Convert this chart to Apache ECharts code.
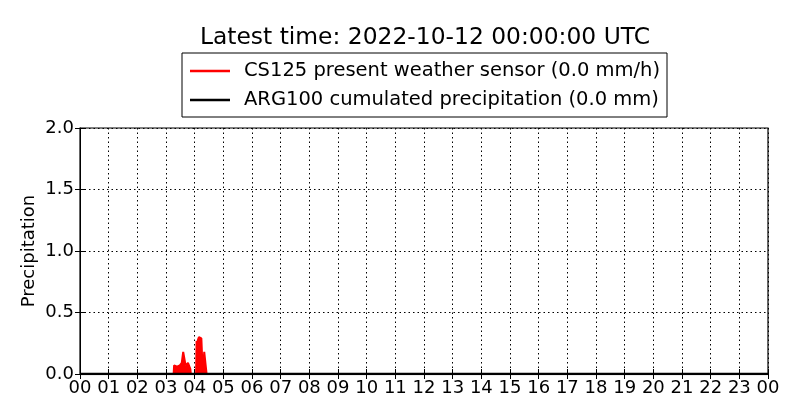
<!DOCTYPE html>
<html>
<head>
<meta charset="utf-8">
<script src="https://cdn.jsdelivr.net/npm/echarts@6/dist/echarts.min.js"></script>
<style>html,body{margin:0;padding:0;background:#fff}#c{width:800px;height:420px}</style>
</head>
<body>
<div id="c"></div>
<script>
const titleText = 'Latest time: 2022-10-12 00:00:00 UTC';
const seriesNames = ['CS125 present weather sensor (0.0 mm/h)', 'ARG100 cumulated precipitation (0.0 mm)'];
// CS125 precipitation intensity (mm/h), time in minutes since 00:00
const cs125Minutes = [0, 196, 197, 200, 203, 206, 209, 211, 213, 215, 216, 220, 221, 223, 225, 226, 230, 231, 232, 243, 244, 246, 246.5, 247, 248, 249, 252, 254, 256, 257, 259, 260, 264, 265, 1440];
const cs125Values  = [0, 0, 0.07, 0.07, 0.06, 0.06, 0.07, 0.08, 0.09, 0.08, 0.18, 0.19, 0.07, 0.06, 0.06, 0.09, 0.10, 0.04, 0, 0, 0.27, 0.28, 0.08, 0.28, 0.29, 0.30, 0.30, 0.29, 0.28, 0, 0, 0.18, 0.18, 0, 0];
// ARG100 cumulated precipitation (mm)
const argMinutes = [0, 1440];
const argValues = [0, 0];
const hourTicks = ['00','01','02','03','04','05','06','07','08','09','10','11','12','13','14','15','16','17','18','19','20','21','22','23','00'];
const yTicks = ['0.0','0.5','1.0','1.5','2.0'];

const font = 'DejaVu Sans';
const chart = echarts.init(document.getElementById('c'), null, {renderer: 'canvas'});
const toPairs = (m, v) => m.map((t, i) => [t / 60, v[i]]);
const tickStyle = {show: true, inside: true, length: 5, lineStyle: {color: '#000', width: 1}};
chart.setOption({
  animation: false,
  title: {text: titleText, left: 420, top: 21, textAlign: 'center',
    textStyle: {fontFamily: font, fontSize: 23.4, fontWeight: 'normal', color: '#000'}},
  legend: {orient: 'vertical', left: 182, top: 53, padding: [7, 7, 6, 8], itemGap: 7,
    itemWidth: 40, itemHeight: 2.5, icon: 'rect', borderColor: '#000', borderWidth: 1,
    textStyle: {fontFamily: font, fontSize: 19.5, color: '#000', lineHeight: 22, padding: [0, 0, 0, 9]},
    data: seriesNames},
  grid: {left: 80, right: 32, top: 128, bottom: 46, show: true, borderColor: '#000', borderWidth: 1.2},
  xAxis: [{type: 'value', min: 0, max: 24, interval: 1,
    axisLine: {show: true, lineStyle: {color: '#000'}}, axisTick: tickStyle,
    axisLabel: {fontFamily: font, fontSize: 18, color: '#000', margin: 5, formatter: v => hourTicks[Math.round(v)]},
    splitLine: {show: true, lineStyle: {color: '#000', type: [1.5, 3], width: 1}}},
   {type: 'value', position: 'top', min: 0, max: 24, interval: 1,
    axisLine: {show: false}, axisTick: tickStyle, axisLabel: {show: false}, splitLine: {show: false}}],
  yAxis: [{type: 'value', min: 0, max: 2, interval: 0.5, name: 'Precipitation', nameLocation: 'middle', nameGap: 42,
    nameMoveOverlap: false,
    nameTextStyle: {fontFamily: font, fontSize: 18, color: '#000'},
    axisLine: {show: true, lineStyle: {color: '#000'}}, axisTick: tickStyle,
    axisLabel: {fontFamily: font, fontSize: 18, color: '#000', margin: 6, formatter: v => yTicks[Math.round(v * 2)]},
    splitLine: {show: true, lineStyle: {color: '#000', type: [1.5, 3], width: 1}}},
   {type: 'value', position: 'right', min: 0, max: 2, interval: 0.5,
    axisLine: {show: false}, axisTick: tickStyle, axisLabel: {show: false}, splitLine: {show: false}}],
  series: [
    {name: seriesNames[0], type: 'line', data: toPairs(cs125Minutes, cs125Values), showSymbol: false, symbol: 'none',
      color: '#ff0000', lineStyle: {color: '#ff0000', width: 2}, areaStyle: {color: '#ff0000', opacity: 1}, z: 2},
    {name: seriesNames[1], type: 'line', data: toPairs(argMinutes, argValues), showSymbol: false, symbol: 'none',
      color: '#000000', lineStyle: {color: '#000000', width: 2.5}, z: 3}
  ]
});
</script>
</body>
</html>
